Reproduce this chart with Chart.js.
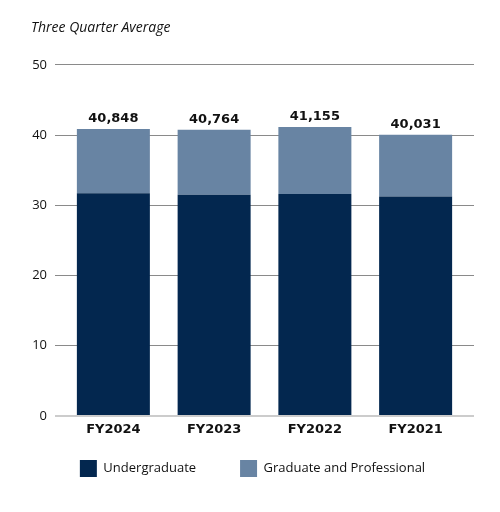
<!DOCTYPE html>
<html lang="en">
<head>
    <meta charset="UTF-8">
    <title>Three Quarter Average</title>
    <script src="https://cdn.jsdelivr.net/npm/chart.js"></script>
    <style>
        html, body { margin: 0; padding: 0; background: #fff; }
        #wrap { width: 500px; height: 512px; position: relative; }
    </style>
</head>
<body>
    <div id="wrap"><canvas id="enrollChart"></canvas></div>
    <script>
        // values in thousands
        var years = ["FY2024", "FY2023", "FY2022", "FY2021"];
        var totals = [40.848, 40.764, 41.155, 40.031];
        var totalLabels = ["40,848", "40,764", "41,155", "40,031"];
        var undergrad = [31.7, 31.5, 31.6, 31.25];
        var gradProf = [9.148, 9.264, 9.555, 8.781];
        var yTicks = [0, 10, 20, 30, 40, 50];

        var fontFam = "'Open Sans', 'Liberation Sans', sans-serif";
        var boldFam = "'DejaVu Sans', 'Open Sans', sans-serif";

        function gridColor(c) { return c.tick && c.tick.value === 0 ? "#cccccc" : "#8a8a8a"; }
        function gridWidth(c) { return c.tick && c.tick.value === 0 ? 2 : 1; }
        function setTicks(s) { s.ticks = yTicks.map(function (v) { return { value: v }; }); }

        // totals above the bars
        var totalsPlugin = {
            id: 'totals',
            afterDatasetsDraw: function (chart) {
                var ctx = chart.ctx;
                var meta = chart.getDatasetMeta(1);
                ctx.save();
                ctx.font = "bold 13px " + boldFam;
                ctx.fillStyle = "#111";
                ctx.textAlign = "center";
                ctx.textBaseline = "bottom";
                meta.data.forEach(function (bar, i) {
                    ctx.fillText(totalLabels[i], bar.x, chart.scales.y.getPixelForValue(totals[i]) - 4);
                });
                ctx.restore();
            }
        };

        // legend padding is wide (for the gap between items), so pull it up a bit
        var legendShift = {
            id: 'legendShift',
            afterLayout: function (chart) {
                chart.legend.top -= 25;
                chart.legend.bottom -= 25;
            }
        };

        new Chart(document.getElementById('enrollChart'), {
            type: 'bar',
            data: {
                labels: years,
                datasets: [{
                    label: "Undergraduate",
                    data: undergrad,
                    backgroundColor: "#03274f"
                }, {
                    label: "Graduate and Professional",
                    data: gradProf,
                    backgroundColor: "#6884a3"
                }]
            },
            options: {
                responsive: true,
                maintainAspectRatio: false,
                animation: false,
                layout: { padding: { left: 31, right: 26, top: 0, bottom: 0 } },
                datasets: { bar: { categoryPercentage: 1, barPercentage: 0.7246 } },
                scales: {
                    x: {
                        stacked: true,
                        grid: { display: false, drawTicks: false },
                        border: { display: false },
                        ticks: { color: "#111", font: { family: boldFam, size: 13, weight: 'bold' }, padding: 6 },
                        afterFit: function (s) { s.height = 25; }
                    },
                    y: {
                        stacked: true,
                        min: 0, max: 50,
                        afterBuildTicks: setTicks,
                        grid: { color: gridColor, lineWidth: gridWidth, drawTicks: true, tickLength: 8 },
                        border: { display: false },
                        ticks: { color: "#111", font: { family: fontFam, size: 13 }, padding: 8 },
                        afterFit: function (s) { s.width = 32; }
                    },
                    y2: {
                        position: 'right',
                        min: 0, max: 50,
                        afterBuildTicks: setTicks,
                        grid: { color: gridColor, lineWidth: gridWidth, drawOnChartArea: false, drawTicks: true, tickLength: 8 },
                        border: { display: false },
                        ticks: { display: false },
                        afterFit: function (s) { s.width = 8; }
                    }
                },
                plugins: {
                    title: {
                        display: true,
                        text: "Three Quarter Average",
                        align: 'start',
                        color: "#111",
                        font: { family: fontFam, size: 14, style: 'italic', weight: 'normal' },
                        padding: { top: 20, bottom: 28 }
                    },
                    legend: {
                        position: 'bottom',
                        labels: {
                            boxWidth: 17, boxHeight: 17, padding: 44,
                            color: "#111",
                            font: { family: fontFam, size: 13 }
                        }
                    },
                    tooltip: { enabled: false }
                }
            },
            plugins: [totalsPlugin, legendShift]
        });
    </script>
</body>
</html>
